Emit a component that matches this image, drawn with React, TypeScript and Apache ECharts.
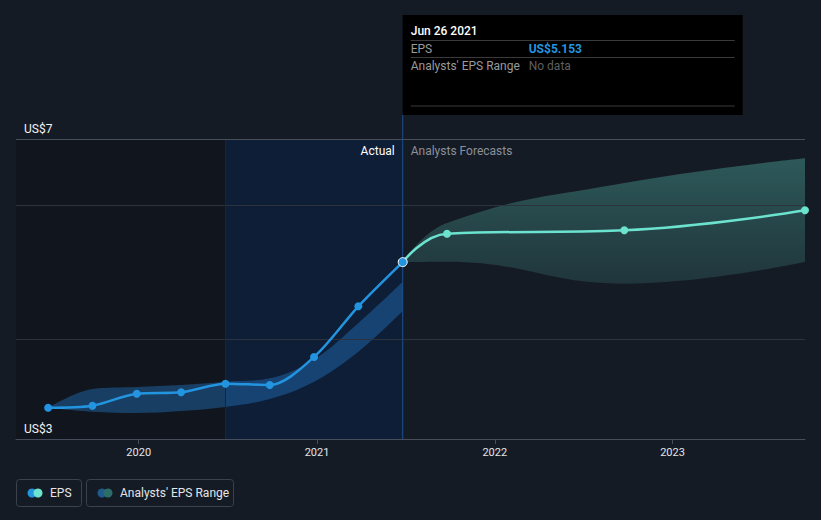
import React, { useEffect, useRef } from 'react';
import * as echarts from 'echarts';

// ---- data ----
const actualDates = ['2019-06-29', '2019-09-28', '2019-12-28', '2020-03-28', '2020-06-27', '2020-09-26', '2020-12-26', '2021-03-27', '2021-06-26'];
const actualEps = [2.97, 3.0, 3.18, 3.2, 3.33, 3.31, 3.73, 4.49, 5.153];
const actualLow = [2.97, 2.91, 2.89, 2.92, 2.98, 3.1, 3.36, 3.81, 4.42];
const actualHigh = [2.97, 3.25, 3.28, 3.31, 3.36, 3.41, 3.69, 4.24, 4.86];

const forecastDates = ['2021-06-26', '2021-09-25', '2022-09-24', '2023-09-30'];
const forecastEps = [5.153, 5.58, 5.63, 5.93];
const forecastLow = [5.153, 5.16, 4.83, 5.16];
const forecastHigh = [5.153, 5.74, 6.34, 6.71];

const yearTicks = ['2020-01-01', '2021-01-01', '2022-01-01', '2023-01-01'];
const yLabelValues = [2.5, 7];
const gridValues = [4, 6];
const xMin = '2019-04-24';
const xMax = '2023-09-30';
const yMin = 2.5;
const yMax = 7;
const pastEnd = '2020-06-27';
const nowDate = '2021-06-26';

const tooltipTitle = 'Jun 26 2021';
const tooltipEps = 'US$5.153';

const FONT = 'Roboto';

const ts = (d: string) => {
  const [y, m, dd] = d.split('-').map(Number);
  return Date.UTC(y, m - 1, dd);
};

export default function App() {
  const ref = useRef<HTMLDivElement>(null);

  useEffect(() => {
    document.body.style.margin = '0';
    const chart = echarts.init(ref.current!, null, { renderer: 'svg' });
    const yearTs = yearTicks.map(ts);
    const zip = (d: string[], v: number[]) => d.map((x, i) => [ts(x), v[i]]);
    const diff = (a: number[], b: number[]) => a.map((x, i) => +(x - b[i]).toFixed(4));

    chart.setOption({
      animation: false,
      backgroundColor: '#151b25',
      textStyle: { fontFamily: FONT },
      grid: { left: 16, right: 16, top: 139, bottom: 81 },
      xAxis: [
        {
          type: 'value',
          min: ts(xMin),
          max: ts(xMax),
          z: 10,
          axisLine: { lineStyle: { color: '#474d5a', width: 1 } },
          axisTick: { show: true, customValues: yearTs, length: 5, lineStyle: { color: '#474d5a' } },
          axisLabel: {
            customValues: yearTs,
            formatter: (v: number) => String(new Date(v).getUTCFullYear()),
            color: '#e3e5e8',
            fontSize: 11,
            fontFamily: FONT,
            margin: 8,
          },
          splitLine: { show: false },
        },
        {
          type: 'time',
          min: ts(xMin),
          max: ts(xMax),
          show: false,
          splitLine: { show: false },
        },
      ],
      yAxis: {
        type: 'value',
        min: yMin,
        max: yMax,
        interval: yMax - yMin,
        z: 10,
        axisLine: { show: false },
        axisTick: { show: false },
        splitLine: { show: true, lineStyle: { color: '#474d5a', width: 1 } },
        axisLabel: {
          inside: true,
          margin: 8,
          customValues: yLabelValues,
          showMinLabel: true,
          showMaxLabel: true,
          verticalAlign: 'bottom',
          padding: [0, 0, 4, 0],
          color: '#f2f3f5',
          fontSize: 12,
          fontFamily: FONT,
          formatter: (v: number) => 'US$' + Math.round(v),
        },
      },
      series: [
        {
          name: 'actualLow',
          type: 'line',
          xAxisIndex: 1,
          stack: 'act',
          data: zip(actualDates, actualLow),
          smooth: 0.35,
          symbol: 'none',
          lineStyle: { width: 0 },
          silent: true,
          z: 1,
          markArea: {
            silent: true,
            data: [
              [{ xAxis: ts(xMin), itemStyle: { color: '#11151d' } }, { xAxis: ts(pastEnd) }],
              [{ xAxis: ts(pastEnd), itemStyle: { color: '#0e1e37' } }, { xAxis: ts(nowDate) }],
            ],
          },
          markLine: {
            silent: true,
            symbol: ['none', 'none'],
            label: { show: false },
            data: [
              ...gridValues.map((v) => ({ yAxis: v, lineStyle: { color: '#2c323e', width: 1, type: 'solid' } })),
              { xAxis: ts(pastEnd), lineStyle: { color: '#1a2436', width: 1, type: 'solid' } },
            ],
          },
        },
        {
          name: 'actualRange',
          type: 'line',
          xAxisIndex: 1,
          stack: 'act',
          data: zip(actualDates, diff(actualHigh, actualLow)),
          smooth: 0.35,
          symbol: 'none',
          lineStyle: { width: 0 },
          areaStyle: { color: 'rgba(36,114,186,0.45)', opacity: 1 },
          silent: true,
          z: 2,
        },
        {
          name: 'forecastLow',
          type: 'line',
          xAxisIndex: 1,
          stack: 'fc',
          data: zip(forecastDates, forecastLow),
          smooth: 0.45,
          symbol: 'none',
          lineStyle: { width: 0 },
          silent: true,
          z: 2,
        },
        {
          name: 'forecastRange',
          type: 'line',
          xAxisIndex: 1,
          stack: 'fc',
          data: zip(forecastDates, diff(forecastHigh, forecastLow)),
          smooth: 0.45,
          symbol: 'none',
          lineStyle: { width: 0 },
          areaStyle: {
            opacity: 1,
            color: new echarts.graphic.LinearGradient(0, 0, 0, 1, [
              { offset: 0, color: 'rgba(74,160,150,0.46)' },
              { offset: 1, color: 'rgba(74,160,150,0.2)' },
            ]),
          },
          silent: true,
          z: 2,
        },
        {
          name: 'EPS forecast',
          type: 'line',
          xAxisIndex: 1,
          data: forecastDates.map((d, i) => (i === 0 ? { value: [ts(d), forecastEps[i]], symbol: 'none' } : [ts(d), forecastEps[i]])),
          smooth: 0.45,
          symbol: 'circle',
          symbolSize: 8,
          showSymbol: true,
          itemStyle: { color: '#6ce3cf' },
          lineStyle: { color: '#6ce3cf', width: 2.5 },
          z: 11,
        },
        {
          name: 'EPS',
          type: 'line',
          xAxisIndex: 1,
          data: actualDates.map((d, i) =>
            i === actualDates.length - 1
              ? { value: [ts(d), actualEps[i]], symbolSize: 9, itemStyle: { color: '#2394df', borderColor: '#ffffff', borderWidth: 1 } }
              : [ts(d), actualEps[i]]
          ),
          smooth: 0.3,
          symbol: 'circle',
          symbolSize: 8,
          showSymbol: true,
          itemStyle: { color: '#2394df' },
          lineStyle: { color: '#2394df', width: 2.5 },
          z: 12,
        },
      ],
    });

    const nowX = chart.convertToPixel({ xAxisIndex: 0 }, ts(nowDate));
    const bottomY = chart.convertToPixel({ yAxisIndex: 0 }, yMin);
    const topY = chart.convertToPixel({ yAxisIndex: 0 }, yMax);

    const rowText = (x: number, y: number, text: string, fill: string, weight: any = 'normal') => ({
      type: 'text',
      x,
      y,
      style: { text, fill, font: `${weight} 12px ${FONT}`, verticalAlign: 'middle' },
    });

    chart.setOption({
      graphic: [
        {
          type: 'line',
          shape: { x1: nowX, y1: 115, x2: nowX, y2: bottomY },
          style: { stroke: '#1d4f8e', lineWidth: 1 },
          z: 10,
        },
        {
          type: 'text',
          x: nowX - 8,
          y: topY + 12,
          style: { text: 'Actual', fill: '#ffffff', font: `12px ${FONT}`, align: 'right', verticalAlign: 'middle' },
          z: 10,
        },
        {
          type: 'text',
          x: nowX + 8,
          y: topY + 12,
          style: { text: 'Analysts Forecasts', fill: '#8b9099', font: `12px ${FONT}`, align: 'left', verticalAlign: 'middle' },
          z: 10,
        },
        {
          type: 'group',
          x: nowX,
          y: 15,
          z: 20,
          children: [
            { type: 'rect', shape: { x: 0, y: 0, width: 340, height: 100 }, style: { fill: '#000000' } },
            rowText(8, 16, tooltipTitle, '#ffffff', 500),
            { type: 'line', shape: { x1: 8, y1: 25.5, x2: 332, y2: 25.5 }, style: { stroke: '#3a3a3a', lineWidth: 1 } },
            rowText(8, 33.5, 'EPS', '#9a9a9a'),
            rowText(126, 33.5, tooltipEps, '#2394df', 'bold'),
            { type: 'line', shape: { x1: 8, y1: 42.5, x2: 332, y2: 42.5 }, style: { stroke: '#3a3a3a', lineWidth: 1 } },
            rowText(8, 51, "Analysts' EPS Range", '#9a9a9a'),
            rowText(126, 51, 'No data', '#5f5f5f'),
            { type: 'line', shape: { x1: 8, y1: 91, x2: 332, y2: 91 }, style: { stroke: '#3a3a3a', lineWidth: 1 } },
          ],
        },
        {
          type: 'group',
          x: 16,
          y: 479,
          children: [
            { type: 'rect', shape: { x: 0.5, y: 0.5, width: 65, height: 27, r: 3 }, style: { fill: 'transparent', stroke: '#3b414d', lineWidth: 1 } },
            { type: 'circle', shape: { cx: 16, cy: 14, r: 4.5 }, style: { fill: '#2394df' } },
            { type: 'circle', shape: { cx: 22, cy: 14, r: 4.5 }, style: { fill: '#6ce3cf' } },
            { type: 'text', x: 34, y: 14, style: { text: 'EPS', fill: '#e3e5e8', font: `12px ${FONT}`, verticalAlign: 'middle' } },
            { type: 'rect', shape: { x: 70.5, y: 0.5, width: 147, height: 27, r: 3 }, style: { fill: 'transparent', stroke: '#3b414d', lineWidth: 1 } },
            { type: 'circle', shape: { cx: 86, cy: 14, r: 4.5 }, style: { fill: '#1f5a8c' } },
            { type: 'circle', shape: { cx: 92, cy: 14, r: 4.5 }, style: { fill: '#2d6c68' } },
            { type: 'text', x: 104, y: 14, style: { text: "Analysts' EPS Range", fill: '#e3e5e8', font: `12px ${FONT}`, verticalAlign: 'middle' } },
          ],
        },
      ],
    });

    return () => chart.dispose();
  }, []);

  return <div ref={ref} style={{ width: 821, height: 520 }} />;
}
